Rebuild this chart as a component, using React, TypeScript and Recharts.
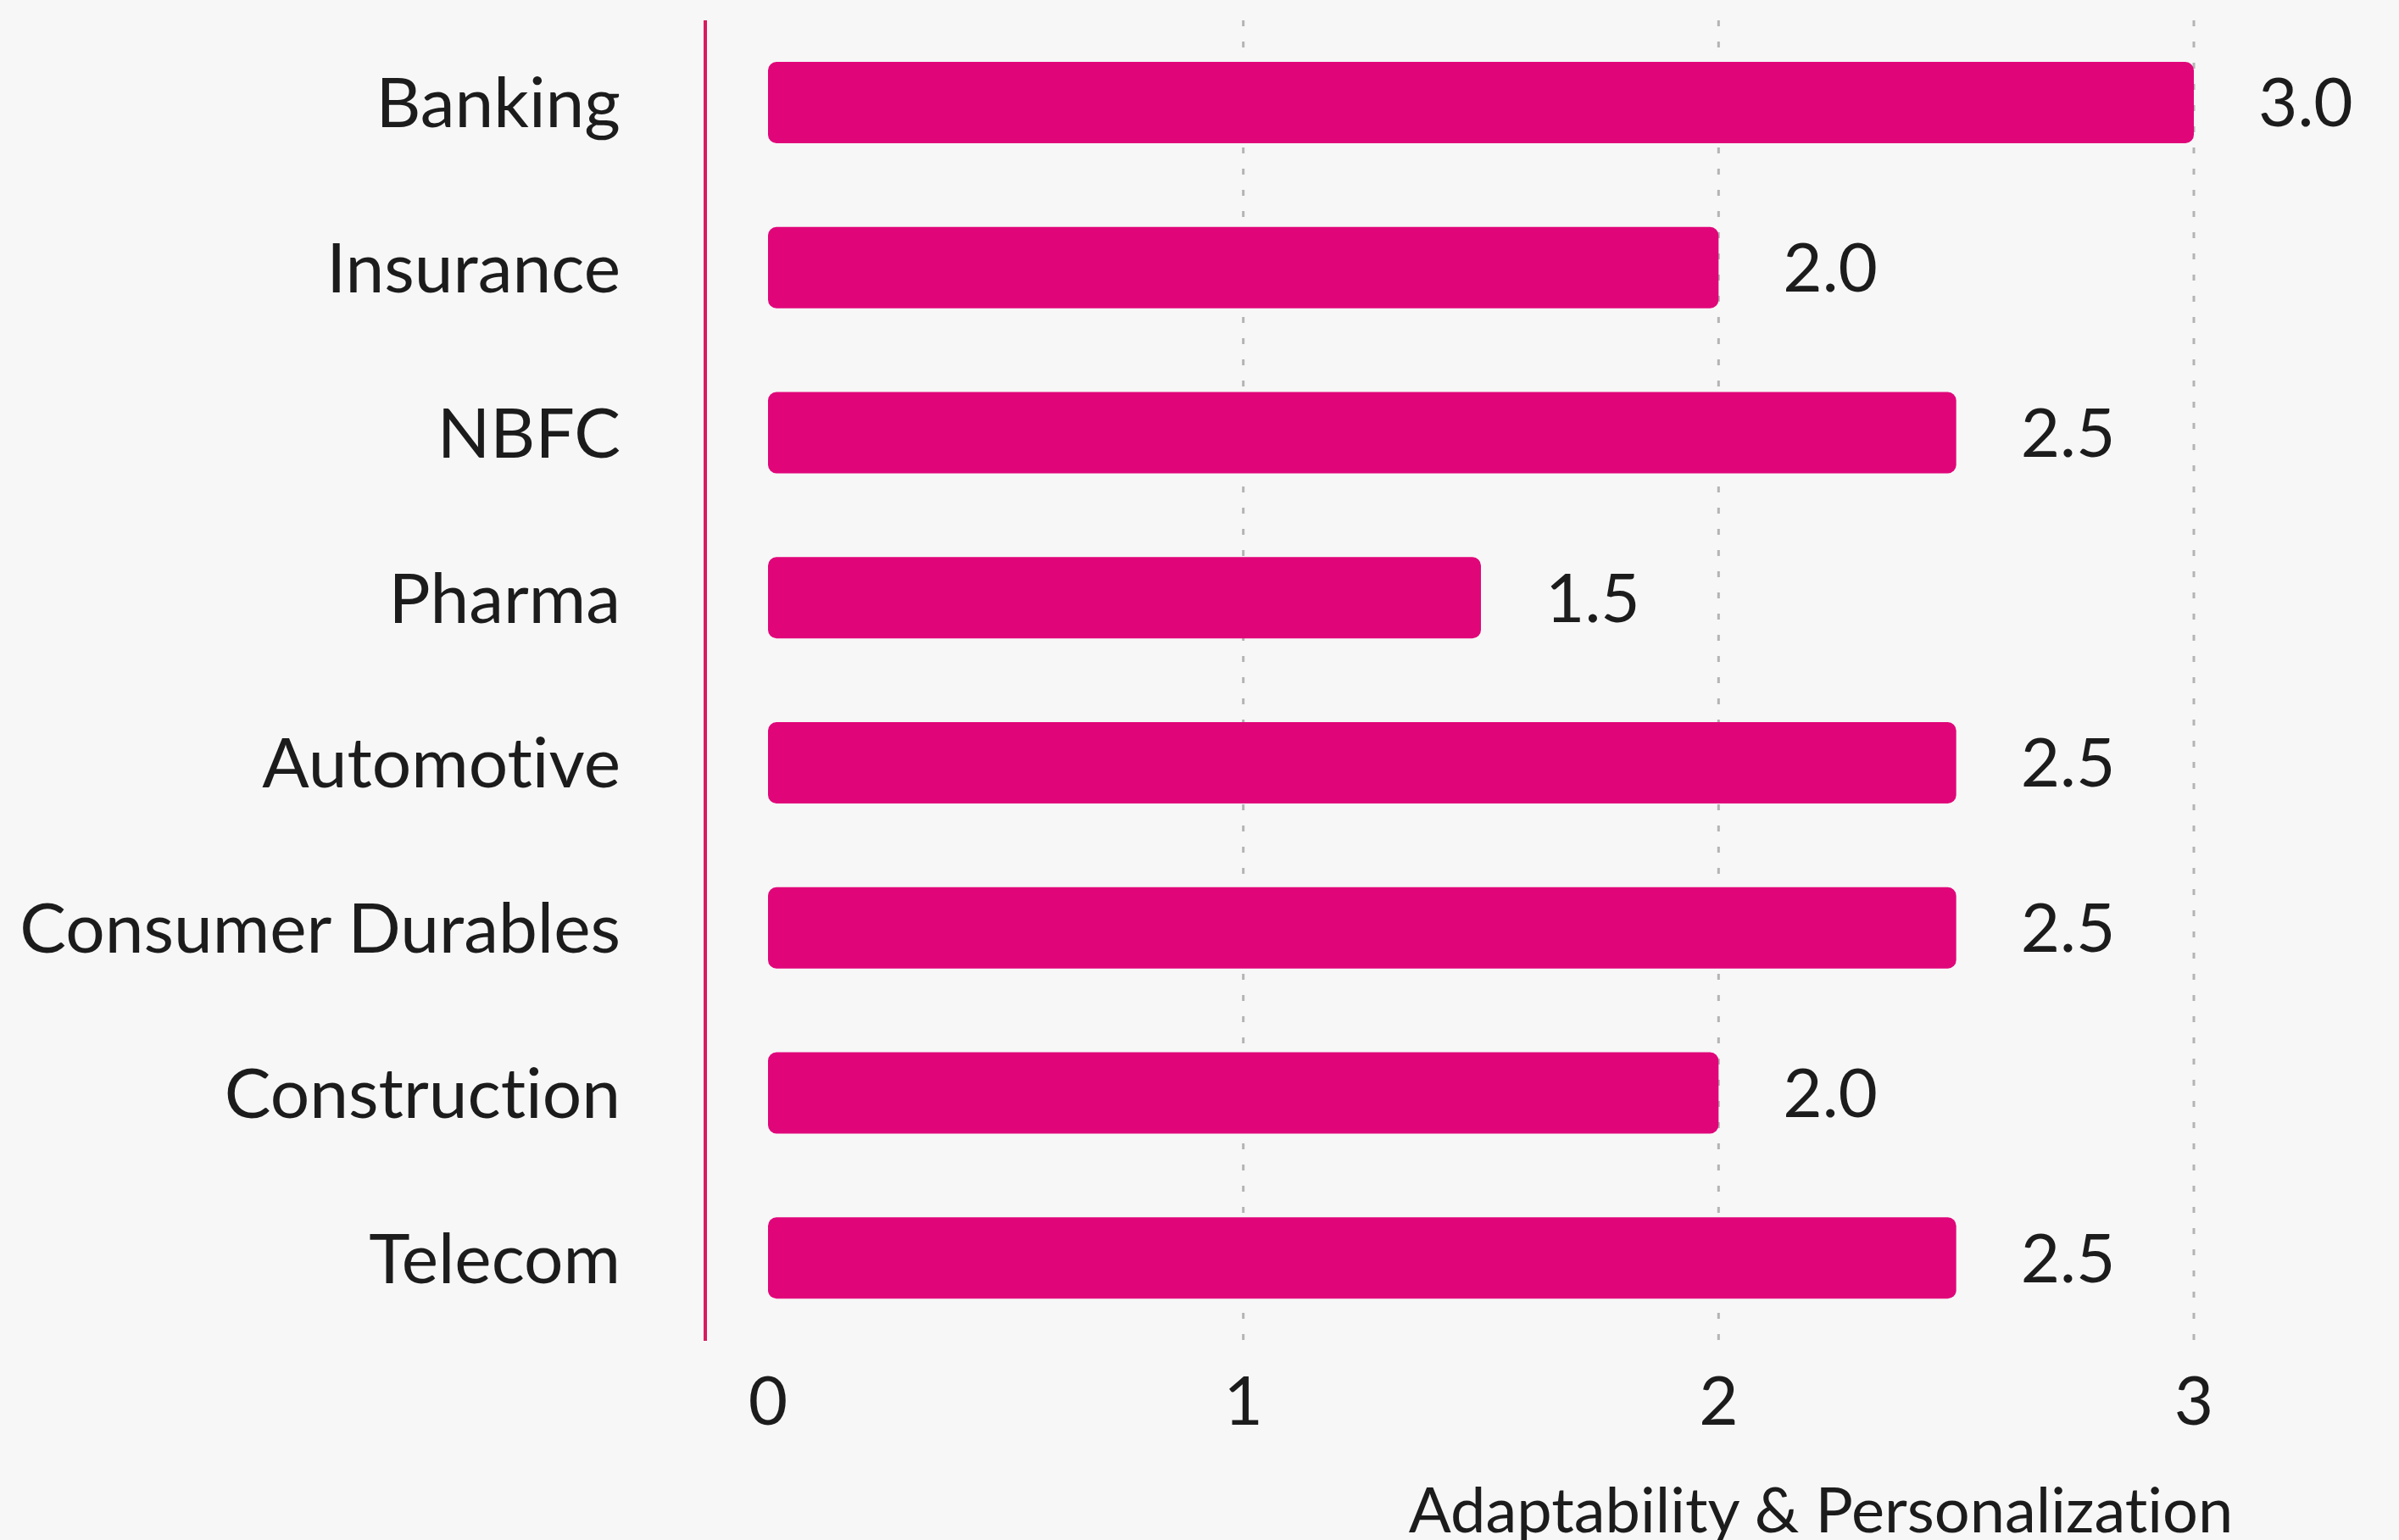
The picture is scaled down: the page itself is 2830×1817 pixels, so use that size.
import React from 'react';
import { BarChart, Bar, XAxis, YAxis, CartesianGrid, LabelList } from 'recharts';

const sectors = ['Banking', 'Insurance', 'NBFC', 'Pharma', 'Automotive', 'Consumer Durables', 'Construction', 'Telecom'];
const scores = [3.0, 2.0, 2.5, 1.5, 2.5, 2.5, 2.0, 2.5];
const xTicks = [0, 1, 2, 3];
const gridAt = [1, 2, 3];

const data = sectors.map((name, i) => ({ name, value: scores[i] }));

const PINK = '#e0067a';
const FONT = 'Lato, "Open Sans", sans-serif';
const noLig = { fontVariantLigatures: 'none' as const };

const App = () => {
  return (
    <div style={{ position: 'absolute', left: 0, top: 0, width: 2830, height: 1817, background: '#f7f7f7' }}>
      <BarChart
        width={2830}
        height={1817}
        data={data}
        layout="vertical"
        margin={{ top: 24, right: 242, bottom: 0, left: 0 }}
      >
        {/* dotted grid at 1,2,3 only, drawn under the bars */}
        <CartesianGrid
          horizontal={false}
          verticalValues={gridAt}
          stroke="#b4b4b4"
          strokeWidth={3}
          strokeDasharray="7 18"
        />
        <XAxis
          type="number"
          domain={[0, 3]}
          ticks={xTicks}
          padding={{ left: 74, right: 0 }}
          axisLine={false}
          tickLine={false}
          tickMargin={36}
          height={235}
          tick={{ fill: '#1c1c1c', fontSize: 80, fontFamily: FONT }}
          label={{
            value: 'Adaptability & Personalization',
            position: 'insideBottom',
            offset: 9,
            dx: 438,
            fill: '#1c1c1c',
            fontSize: 74,
            fontFamily: FONT,
            style: noLig,
          }}
        />
        <YAxis
          type="category"
          dataKey="name"
          width={832}
          axisLine={{ stroke: '#d81b60', strokeWidth: 4 }}
          tickLine={false}
          tickMargin={94}
          tick={{ fill: '#1c1c1c', fontSize: 82, fontFamily: FONT, style: noLig }}
        />
        <Bar dataKey="value" fill={PINK} barSize={96} radius={10} isAnimationActive={false}>
          <LabelList
            dataKey="value"
            position="right"
            offset={76}
            formatter={(v: number) => v.toFixed(1)}
            fill="#1c1c1c"
            fontSize={80}
            fontFamily={FONT}
          />
        </Bar>
      </BarChart>
    </div>
  );
};

export default App;
